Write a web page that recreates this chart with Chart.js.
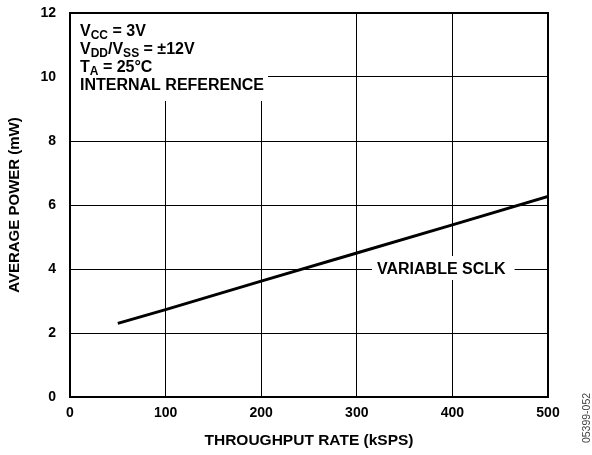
<!DOCTYPE html>
<html>
<head>
<meta charset="utf-8">
<script src="https://cdn.jsdelivr.net/npm/chart.js@4/dist/chart.umd.min.js"></script>
<style>
html,body{margin:0;padding:0;background:#fff;}
#wrap{position:relative;width:592px;height:455px;}
</style>
</head>
<body>
<div id="wrap"><canvas id="c" width="592" height="455"></canvas></div>
<script>
// Data
const throughputKSPS = [50, 100, 200, 300, 400, 500];
const averagePowerMW = [2.3, 2.73, 3.62, 4.5, 5.38, 6.27];
const xTicks = [0, 100, 200, 300, 400, 500];
const yTicks = [0, 2, 4, 6, 8, 10, 12];
const xTitle = 'THROUGHPUT RATE (kSPS)';
const yTitle = 'AVERAGE POWER (mW)';
const seriesLabel = 'VARIABLE SCLK';
const figureId = '05399-052';

const FONT = '"Liberation Sans", Arial, Helvetica, sans-serif';

function drawRuns(ctx, x, y, runs, size) {
  let cx = x;
  for (const [t, sub] of runs) {
    const s = sub ? Math.round(size * 0.72) : size;
    ctx.font = 'bold ' + s + 'px ' + FONT;
    ctx.fillText(t, cx, sub ? y + 3 : y);
    cx += ctx.measureText(t).width;
  }
  return cx;
}

const annotPlugin = {
  id: 'annot',
  beforeDatasetsDraw(chart) {
    const {ctx, chartArea: a, scales} = chart;
    ctx.save();
    ctx.fillStyle = '#fff';
    ctx.fillRect(a.left + 1, a.top + 1, 197, 87);
    ctx.fillStyle = '#000';
    ctx.textBaseline = 'alphabetic';
    ctx.textAlign = 'left';
    const x0 = a.left + 10;
    const size = 16;
    drawRuns(ctx, x0, a.top + 23, [['V', false], ['CC', true], [' = 3V', false]], size);
    drawRuns(ctx, x0, a.top + 41, [['V', false], ['DD', true], ['/V', false], ['SS', true], [' = \u00B112V', false]], size);
    drawRuns(ctx, x0, a.top + 59, [['T', false], ['A', true], [' = 25\u00B0C', false]], size);
    drawRuns(ctx, x0, a.top + 77, [['INTERNAL REFERENCE', false]], size);

    const yL = scales.y.getPixelForValue(4);
    ctx.font = 'bold ' + size + 'px ' + FONT;
    const w = ctx.measureText(seriesLabel).width;
    const lx = 377;
    ctx.fillStyle = '#fff';
    ctx.fillRect(lx - 5, yL - 13, w + 14, 24);
    ctx.fillStyle = '#000';
    ctx.textBaseline = 'middle';
    ctx.fillText(seriesLabel, lx, yL + 1);
    ctx.restore();
  },
  afterDatasetsDraw(chart) {
    const {ctx, chartArea: a} = chart;
    ctx.save();
    ctx.strokeStyle = '#000';
    ctx.lineWidth = 2;
    ctx.strokeRect(a.left, a.top, a.right - a.left, a.bottom - a.top);
    ctx.restore();
  },
  afterDraw(chart) {
    const {ctx} = chart;
    ctx.save();
    ctx.translate(587, 418);
    ctx.rotate(-Math.PI / 2);
    ctx.fillStyle = '#444';
    ctx.font = '10.5px ' + FONT;
    ctx.textAlign = 'center';
    ctx.textBaseline = 'middle';
    ctx.fillText(figureId, 0, 0);
    ctx.restore();
  }
};

new Chart(document.getElementById('c'), {
  type: 'scatter',
  data: {
    datasets: [{
      label: seriesLabel,
      data: throughputKSPS.map((x, i) => ({x, y: averagePowerMW[i]})),
      showLine: true,
      borderColor: '#000',
      borderWidth: 3,
      pointRadius: 0,
      fill: false,
      tension: 0
    }]
  },
  options: {
    responsive: false,
    animation: false,
    layout: {padding: {top: 13, right: 44, left: 0, bottom: 0}},
    plugins: {legend: {display: false}, tooltip: {enabled: false}},
    scales: {
      x: {
        type: 'linear', min: 0, max: 500,
        afterBuildTicks: s => { s.ticks = xTicks.map(v => ({value: v})); },
        afterFit: s => { s.height = 58; s.paddingLeft = 0; s.paddingRight = 0; },
        grid: {color: '#000', lineWidth: 1, drawTicks: false},
        border: {display: false},
        ticks: {color: '#000', padding: 8, maxRotation: 0, font: {family: FONT, size: 14, weight: 'bold'}},
        title: {display: true, text: xTitle, color: '#000', padding: {top: 0, bottom: 5}, font: {family: FONT, size: 15.5, weight: 'bold'}}
      },
      y: {
        type: 'linear', min: 0, max: 12,
        afterBuildTicks: s => { s.ticks = yTicks.map(v => ({value: v})); },
        afterFit: s => { s.width = 70; s.paddingTop = 0; s.paddingBottom = 0; },
        grid: {color: '#000', lineWidth: 1, drawTicks: false},
        border: {display: false},
        ticks: {color: '#000', padding: 14, font: {family: FONT, size: 14, weight: 'bold'}},
        title: {display: true, text: yTitle, color: '#000', padding: {top: 6, bottom: 0}, font: {family: FONT, size: 15, weight: 'bold'}}
      }
    }
  },
  plugins: [annotPlugin]
});
</script>
</body>
</html>
